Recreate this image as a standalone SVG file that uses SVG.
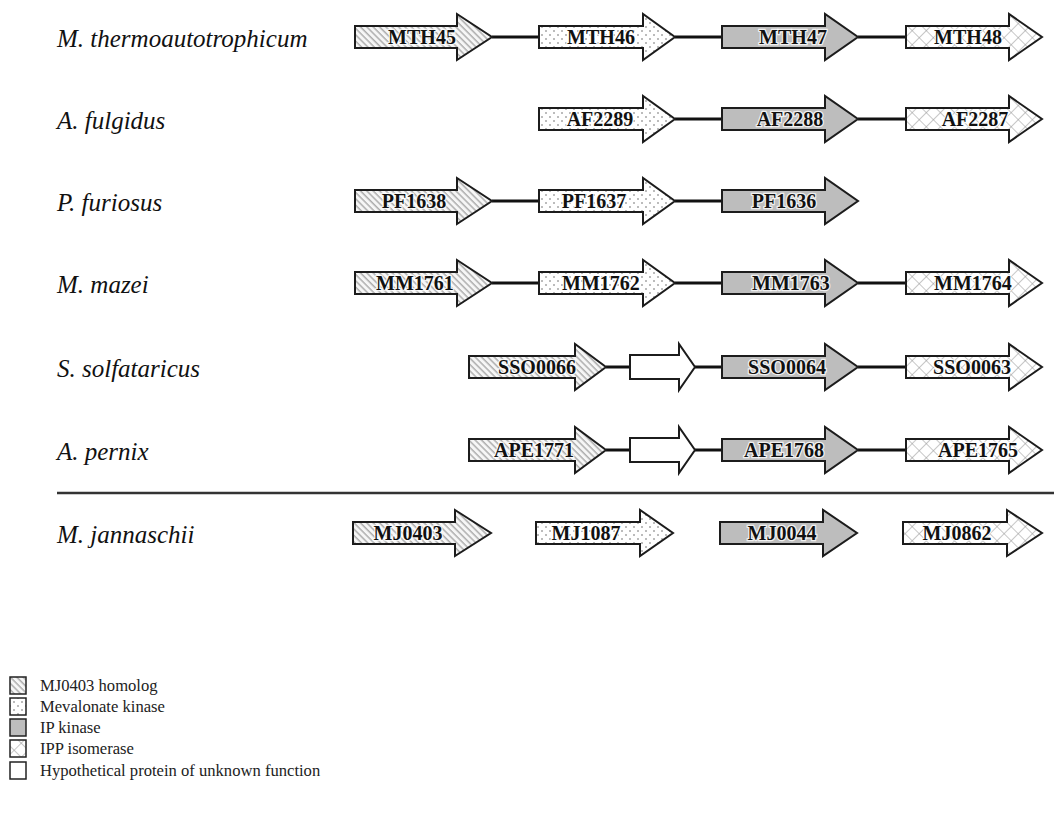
<svg xmlns="http://www.w3.org/2000/svg" width="1054" height="822" viewBox="0 0 1054 822">
<defs>
<pattern id="hatch" patternUnits="userSpaceOnUse" width="4.5" height="4.5" patternTransform="rotate(-45)">
<rect width="4.5" height="4.5" fill="#f6f6f6"/>
<line x1="1" y1="0" x2="1" y2="4.5" stroke="#8a8a8a" stroke-width="1"/>
</pattern>
<pattern id="dots" patternUnits="userSpaceOnUse" width="8" height="8">
<rect width="8" height="8" fill="#ffffff"/>
<circle cx="2" cy="2" r="0.8" fill="#666"/>
<circle cx="6" cy="6" r="0.8" fill="#666"/>
</pattern>
<pattern id="cross" patternUnits="userSpaceOnUse" width="10" height="10" patternTransform="rotate(45)">
<rect width="10" height="10" fill="#ffffff"/>
<line x1="0" y1="0" x2="10" y2="0" stroke="#999" stroke-width="1.1"/>
<line x1="0" y1="0" x2="0" y2="10" stroke="#999" stroke-width="1.1"/>
</pattern>
</defs>
<style>
.sp{font-family:"Liberation Serif",serif;font-style:italic;font-size:25px;fill:#111}
.lab{font-family:"Liberation Serif",serif;font-weight:bold;font-size:20px;text-anchor:middle;fill:#111;stroke:#fff;stroke-width:2.5px;stroke-opacity:.8;paint-order:stroke}
.ar{stroke:#1c1c1c;stroke-width:2;stroke-linejoin:miter}
.h{fill:url(#hatch)}
.d{fill:url(#dots)}
.g{fill:#bdbdbd}
.x{fill:url(#cross)}
.w{fill:#fff}
.con line{stroke:#111;stroke-width:3}
.leg{font-family:"Liberation Serif",serif;font-size:16.6px;fill:#222}
.lsq{stroke:#222;stroke-width:1.5}
</style>
<rect width="1054" height="822" fill="#fff"/>

<g id="connectors" class="con">
<line x1="492" y1="37" x2="539" y2="37"/><line x1="675" y1="37" x2="722" y2="37"/><line x1="858" y1="37" x2="906" y2="37"/>
<line x1="675" y1="119" x2="722" y2="119"/><line x1="858" y1="119" x2="906" y2="119"/>
<line x1="492" y1="201" x2="539" y2="201"/><line x1="675" y1="201" x2="722" y2="201"/>
<line x1="492" y1="283" x2="539" y2="283"/><line x1="675" y1="283" x2="722" y2="283"/><line x1="858" y1="283" x2="906" y2="283"/>
<line x1="606" y1="367" x2="630" y2="367"/><line x1="695" y1="367" x2="722" y2="367"/><line x1="858" y1="367" x2="906" y2="367"/>
<line x1="606" y1="450" x2="630" y2="450"/><line x1="695" y1="450" x2="722" y2="450"/><line x1="858" y1="450" x2="906" y2="450"/>
</g>

<g id="labels">
<text class="sp" x="57" y="47">M. thermoautotrophicum</text>
<text class="sp" x="57" y="129">A. fulgidus</text>
<text class="sp" x="57" y="211">P. furiosus</text>
<text class="sp" x="57" y="293">M. mazei</text>
<text class="sp" x="57" y="377">S. solfataricus</text>
<text class="sp" x="57" y="460">A. pernix</text>
<text class="sp" x="57" y="543">M. jannaschii</text>
</g>

<line id="separator" x1="57" y1="493" x2="1054" y2="493" stroke="#333" stroke-width="2.5"/>

<g id="row1" transform="translate(0,37)">
<g id="MTH45"><path class="ar h" d="M355,-11H457V-23L492,0L457,23V11H355Z"/><text class="lab" x="422" y="7">MTH45</text></g>
<g id="MTH46"><path class="ar d" d="M539,-11H643V-23L675,0L643,23V11H539Z"/><text class="lab" x="601" y="7">MTH46</text></g>
<g id="MTH47"><path class="ar g" d="M722,-11H825V-23L858,0L825,23V11H722Z"/><text class="lab" x="793" y="7">MTH47</text></g>
<g id="MTH48"><path class="ar x" d="M906,-11H1009V-23L1042,0L1009,23V11H906Z"/><text class="lab" x="968" y="7">MTH48</text></g>
</g>

<g id="row2" transform="translate(0,119)">
<g id="AF2289"><path class="ar d" d="M539,-11H643V-23L675,0L643,23V11H539Z"/><text class="lab" x="600" y="7">AF2289</text></g>
<g id="AF2288"><path class="ar g" d="M722,-11H825V-23L858,0L825,23V11H722Z"/><text class="lab" x="790" y="7">AF2288</text></g>
<g id="AF2287"><path class="ar x" d="M906,-11H1009V-23L1042,0L1009,23V11H906Z"/><text class="lab" x="975" y="7">AF2287</text></g>
</g>

<g id="row3" transform="translate(0,201)">
<g id="PF1638"><path class="ar h" d="M355,-11H457V-23L492,0L457,23V11H355Z"/><text class="lab" x="414" y="7">PF1638</text></g>
<g id="PF1637"><path class="ar d" d="M539,-11H643V-23L675,0L643,23V11H539Z"/><text class="lab" x="594" y="7">PF1637</text></g>
<g id="PF1636"><path class="ar g" d="M722,-11H825V-23L858,0L825,23V11H722Z"/><text class="lab" x="784" y="7">PF1636</text></g>
</g>

<g id="row4" transform="translate(0,283)">
<g id="MM1761"><path class="ar h" d="M355,-11H457V-23L492,0L457,23V11H355Z"/><text class="lab" x="415" y="7">MM1761</text></g>
<g id="MM1762"><path class="ar d" d="M539,-11H643V-23L675,0L643,23V11H539Z"/><text class="lab" x="601" y="7">MM1762</text></g>
<g id="MM1763"><path class="ar g" d="M722,-11H825V-23L858,0L825,23V11H722Z"/><text class="lab" x="791" y="7">MM1763</text></g>
<g id="MM1764"><path class="ar x" d="M906,-11H1009V-23L1042,0L1009,23V11H906Z"/><text class="lab" x="973" y="7">MM1764</text></g>
</g>

<g id="row5" transform="translate(0,367)">
<g id="SSO0066"><path class="ar h" d="M469,-11H575V-23L606,0L575,23V11H469Z"/><text class="lab" x="537" y="7">SSO0066</text></g>
<g id="Sso-hyp"><path class="ar w" d="M630,-12H679V-23L695,0L679,23V12H630Z"/></g>
<g id="SSO0064"><path class="ar g" d="M722,-11H825V-23L858,0L825,23V11H722Z"/><text class="lab" x="787" y="7">SSO0064</text></g>
<g id="SSO0063"><path class="ar x" d="M906,-11H1009V-23L1042,0L1009,23V11H906Z"/><text class="lab" x="972" y="7">SSO0063</text></g>
</g>

<g id="row6" transform="translate(0,450)">
<g id="APE1771"><path class="ar h" d="M469,-11H575V-23L606,0L575,23V11H469Z"/><text class="lab" x="534" y="7">APE1771</text></g>
<g id="Ape-hyp"><path class="ar w" d="M630,-12H679V-23L695,0L679,23V12H630Z"/></g>
<g id="APE1768"><path class="ar g" d="M722,-11H825V-23L858,0L825,23V11H722Z"/><text class="lab" x="784" y="7">APE1768</text></g>
<g id="APE1765"><path class="ar x" d="M906,-11H1009V-23L1042,0L1009,23V11H906Z"/><text class="lab" x="978" y="7">APE1765</text></g>
</g>

<g id="row7" transform="translate(0,533)">
<g id="MJ0403"><path class="ar h" d="M353,-11H455V-23L491,0L455,23V11H353Z"/><text class="lab" x="408" y="7">MJ0403</text></g>
<g id="MJ1087"><path class="ar d" d="M536,-11H640V-23L673,0L640,23V11H536Z"/><text class="lab" x="586" y="7">MJ1087</text></g>
<g id="MJ0044"><path class="ar g" d="M720,-11H823V-23L857,0L823,23V11H720Z"/><text class="lab" x="782" y="7">MJ0044</text></g>
<g id="MJ0862"><path class="ar x" d="M903,-11H1007V-23L1042,0L1007,23V11H903Z"/><text class="lab" x="957" y="7">MJ0862</text></g>
</g>

<g id="legend">
<g id="leg1"><rect class="lsq h" x="10" y="677" width="16" height="17"/><text class="leg" x="40" y="691">MJ0403 homolog</text></g>
<g id="leg2"><rect class="lsq d" x="10" y="698" width="16" height="17"/><text class="leg" x="40" y="712">Mevalonate kinase</text></g>
<g id="leg3"><rect class="lsq g" x="10" y="719" width="16" height="17"/><text class="leg" x="40" y="733">IP kinase</text></g>
<g id="leg4"><rect class="lsq x" x="10" y="740" width="16" height="17"/><text class="leg" x="40" y="754">IPP isomerase</text></g>
<g id="leg5"><rect class="lsq w" x="10" y="762" width="16" height="17"/><text class="leg" x="40" y="776">Hypothetical protein of unknown function</text></g>
</g>
</svg>
